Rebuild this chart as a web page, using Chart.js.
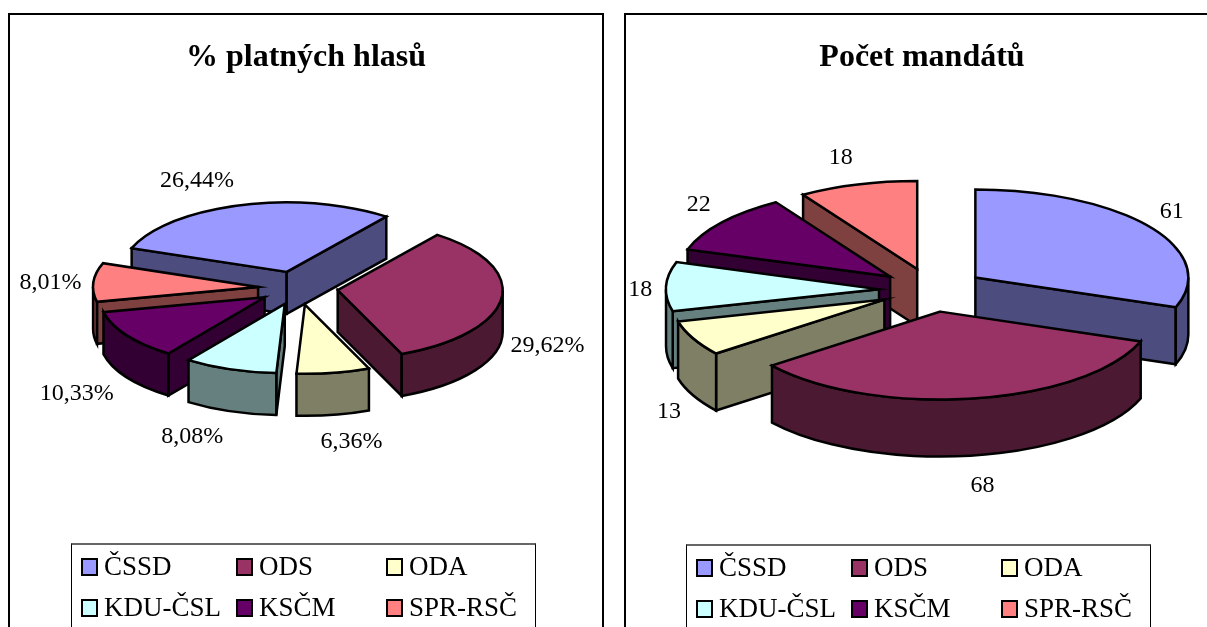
<!DOCTYPE html>
<html><head><meta charset="utf-8">
<style>
html,body{margin:0;padding:0;background:#fff;width:1207px;height:627px;overflow:hidden}
.frame{position:absolute;top:13px;height:700px;border:2px solid #000;background:#fff;box-sizing:border-box}
#f1{left:8px;width:596px}
#f2{left:624px;width:596px}
canvas{position:absolute;left:0;top:0}
.legend{position:absolute;box-sizing:border-box;height:200px;width:465px;border:1px solid #000;border-top:2px solid #666;
 font:27px "Liberation Serif",serif;color:#000;display:grid;grid-template-columns:155px 150px 150px;grid-auto-rows:41px;padding:1px 0 0 9px;line-height:41px}
.item{white-space:nowrap;display:flex;align-items:center}
.sw{display:inline-block;box-sizing:border-box;width:17px;height:18px;border:2.5px solid #000;margin-right:6px;flex:none}
</style></head><body>
<div class="frame" id="f1"><canvas id="c1" width="592" height="612"></canvas><div class="legend" id="l1" style="left:61px;top:528px"></div></div>
<div class="frame" id="f2"><canvas id="c2" width="592" height="612"></canvas><div class="legend" id="l2" style="left:60px;top:529px"></div></div>
<script src="https://cdn.jsdelivr.net/npm/chart.js@4/dist/chart.umd.js"></script>
<script>
const categories = ['ČSSD','ODS','ODA','KDU-ČSL','KSČM','SPR-RSČ'];
const votesPct = [26.44,29.62,6.36,8.08,10.33,8.01];
const seats = [61,68,13,18,22,18];
const sliceColors = ['#9999FF','#993366','#FFFFCC','#CCFFFF','#660066','#FF8080'];
const titleVotes = '% platných hlasů';
const titleSeats = 'Počet mandátů';

function halfColor(h){const n=parseInt(h.slice(1),16);
  return 'rgb('+((n>>16&255)>>1)+','+((n>>8&255)>>1)+','+((n&255)>>1)+')';}

const pie3d = {
  id:'pie3d',
  beforeDatasetDraw(chart,args,o){
    const ctx=chart.ctx, meta=args.meta, k=o.squash, d=o.depth, ex=o.explode;
    const items=meta.data.map((arc,i)=>{
      const p=arc.getProps(['x','y','startAngle','endAngle','outerRadius']);
      const mid=(p.startAngle+p.endAngle)/2;
      return {arc,i,p,mid,tx:o.cx+ex*Math.cos(mid),ty:o.cy+k*ex*Math.sin(mid)};
    }).sort((a,b)=>a.ty-b.ty);
    ctx.save();
    ctx.lineWidth=2.5; ctx.strokeStyle='#000'; ctx.lineJoin='miter';
    for(const it of items){
      const {arc,p,mid,tx,ty}=it, r=p.outerRadius, a=p.startAngle, b=p.endAngle;
      const wall=halfColor(sliceColors[it.i]);
      ctx.fillStyle=wall;
      const face=(t)=>{ctx.beginPath();ctx.moveTo(tx,ty);
        const ex2=tx+r*Math.cos(t), ey2=ty+k*r*Math.sin(t);
        ctx.lineTo(ex2,ey2);ctx.lineTo(ex2,ey2+d);ctx.lineTo(tx,ty+d);ctx.closePath();ctx.fill();ctx.stroke();};
      if(Math.cos(a)<0) face(a);
      if(Math.cos(b)>0) face(b);
      for(let n=-1;n<=1;n++){
        const lo=Math.max(a,2*Math.PI*n), hi=Math.min(b,2*Math.PI*n+Math.PI);
        if(hi>lo){
          ctx.beginPath();
          ctx.ellipse(tx,ty,r,k*r,0,lo,hi,false);
          ctx.ellipse(tx,ty+d,r,k*r,0,hi,lo,true);
          ctx.closePath();ctx.fill();ctx.stroke();
        }
      }
      ctx.save();
      ctx.translate(tx,ty);ctx.scale(1,k);ctx.translate(-p.x,-p.y);
      arc.draw(ctx);
      ctx.restore();
      ctx.beginPath();ctx.moveTo(tx,ty);ctx.ellipse(tx,ty,r,k*r,0,a,b,false);ctx.closePath();ctx.stroke();
    }
    ctx.fillStyle='#000';ctx.font=o.labelFont;ctx.textAlign='center';ctx.textBaseline='middle';
    for(const it of items){
      const {p,mid,tx,ty}=it, r=p.outerRadius;
      const n=o.nudge[it.i];
      const lx=tx+r*Math.cos(mid)+n[0], ly=ty+k*r*Math.sin(mid)+n[1];
      ctx.fillText(o.format(chart.data.datasets[0].data[it.i]),lx,ly);
    }
    ctx.restore();
    return false;
  }
};

function makePie(id,title,values,radius,rotation,opt,titlePad){
  new Chart(document.getElementById(id),{
    type:'pie',
    data:{labels:categories,datasets:[{data:values,backgroundColor:sliceColors,borderWidth:0,radius:radius}]},
    options:{responsive:false,animation:false,rotation:rotation,
      plugins:{legend:{display:false},tooltip:{enabled:false},
        title:{display:true,text:title,color:'#000',align:'center',
          font:{family:'"Liberation Serif",serif',size:32,weight:'bold'},padding:titlePad},
        pie3d:opt}},
    plugins:[pie3d]
  });
}
function makeLegend(id){
  const el=document.getElementById(id);
  categories.forEach((c,i)=>{
    const it=document.createElement('div');it.className='item';
    const s=document.createElement('span');s.className='sw';s.style.background=sliceColors[i];
    const t=document.createElement('span');t.textContent=c;
    it.append(s,t);el.append(it);
  });
}
const labelFont='24px "Liberation Serif",serif';
makePie('c1',titleVotes,votesPct,165,-70,{cx:288,cy:273,squash:.42,depth:42,explode:40,labelFont,
  format:v=>v.toFixed(2).replace('.',',')+'%',
  nudge:[[-43,-25],[46,47],[18,69],[-38,67],[-50,58],[-43,0]]},{top:24,bottom:10});
makePie('c2',titleSeats,seats,213,0,{cx:306,cy:275,squash:.413,depth:57,explode:53,labelFont,
  format:v=>String(v),
  nudge:[[22,-15],[9,87],[-24,73],[-26,3],[-23,-18],[-17,-27]]},{top:24,bottom:10});
makeLegend('l1');makeLegend('l2');
</script></body></html>
